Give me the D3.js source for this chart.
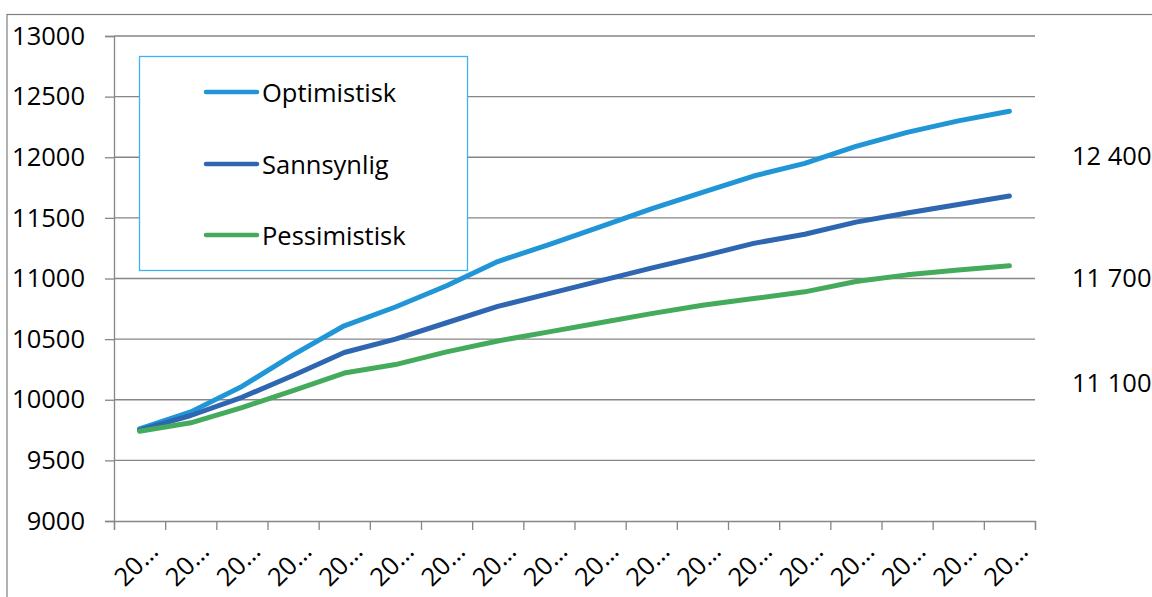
<!DOCTYPE html>
<html>
<head>
<meta charset="utf-8">
<script src="https://cdn.jsdelivr.net/npm/d3@7"></script>
<style>
  html, body { margin: 0; padding: 0; background: #fff; }
  svg { display: block; }
  text { font-family: "Open Sans", "Liberation Sans", sans-serif; fill: #000; }
</style>
</head>
<body>
<svg id="chart" width="1152" height="597"></svg>
<script>
// ---- data ----
const categories = ["20…","20…","20…","20…","20…","20…","20…","20…","20…","20…","20…","20…","20…","20…","20…","20…","20…","20…"];
const optimistisk = [9760, 9900, 10110, 10370, 10610, 10765, 10940, 11140, 11280, 11425, 11575, 11710, 11845, 11950, 12090, 12205, 12300, 12380];
const sannsynlig  = [9750, 9870, 10020, 10200, 10390, 10500, 10635, 10770, 10875, 10980, 11085, 11185, 11290, 11365, 11465, 11540, 11610, 11680];
const pessimistisk = [9740, 9810, 9935, 10075, 10220, 10290, 10395, 10485, 10560, 10635, 10710, 10780, 10835, 10890, 10975, 11030, 11070, 11105];
const seriesNames = ["Optimistisk", "Sannsynlig", "Pessimistisk"];
const seriesColors = ["#2196d6", "#2e66b1", "#45ab5c"];
const yTicks = [9000, 9500, 10000, 10500, 11000, 11500, 12000, 12500, 13000];
const sideLabels = ["12 400", "11 700", "11 100"];
const sideLabelValues = [12020, 11010, 10150];

const seriesData = [optimistisk, sannsynlig, pessimistisk];

const svg = d3.select("#chart");
const mLeft = 114, mRight = 1035, mTop = 36, mBottom = 521;

const x = d3.scaleBand().domain(d3.range(categories.length)).range([mLeft, mRight]);
const xEdge = d3.scaleLinear().domain([0, categories.length]).range([mLeft, mRight]);
const y = d3.scaleLinear().domain([9000, 13000]).range([mBottom, mTop]);

// outer border
svg.append("rect").attr("x", 7).attr("y", 14.5).attr("width", 1160).attr("height", 600)
  .attr("fill", "none").attr("stroke", "#7f7f7f").attr("stroke-width", 1.2);

// gridlines
svg.append("g").selectAll("line").data(yTicks.filter(d => d !== 9000)).join("line")
  .attr("x1", mLeft).attr("x2", mRight)
  .attr("y1", d => y(d)).attr("y2", d => y(d))
  .attr("stroke", "#868686").attr("stroke-width", 1.3);

// y axis
const yAxis = svg.append("g").attr("transform", `translate(${mLeft},0)`)
  .call(d3.axisLeft(y).tickValues(yTicks).tickSize(9).tickPadding(20).tickFormat(d => String(d)));
yAxis.select(".domain").attr("stroke", "#868686").attr("stroke-width", 1.3);
yAxis.selectAll(".tick line").attr("stroke", "#868686").attr("stroke-width", 1.3);
yAxis.selectAll(".tick text").attr("font-size", 25.5).attr("font-family", "Open Sans").attr("fill", "#000");

// x axis (ticks at category edges)
const xAxis = svg.append("g").attr("transform", `translate(0,${mBottom})`)
  .call(d3.axisBottom(xEdge).tickValues(d3.range(categories.length + 1)).tickSize(9).tickFormat(""));
xAxis.select(".domain").attr("stroke", "#868686").attr("stroke-width", 1.3);
xAxis.selectAll(".tick line").attr("stroke", "#868686").attr("stroke-width", 1.3);

// x labels
svg.append("g").selectAll("text").data(categories).join("text")
  .attr("transform", (d, i) => `translate(${x(i) + x.bandwidth() / 2 + 13},546) rotate(-45)`)
  .attr("text-anchor", "end").attr("dominant-baseline", "central")
  .attr("font-size", 25.5).text(d => d);

// lines
const line = d3.line().x((d, i) => x(i) + x.bandwidth() / 2).y(d => y(d));
svg.append("g").selectAll("path").data(seriesData).join("path")
  .attr("d", d => line(d))
  .attr("fill", "none")
  .attr("stroke", (d, i) => seriesColors[i])
  .attr("stroke-width", 5)
  .attr("stroke-linecap", "round").attr("stroke-linejoin", "round");

// legend
const lg = svg.append("g");
lg.append("rect").attr("x", 139.5).attr("y", 56.5).attr("width", 328).attr("height", 214)
  .attr("fill", "#fff").attr("stroke", "#3db3ef").attr("stroke-width", 1.3);
const legendY = [92, 164, 235];
seriesNames.forEach((n, i) => {
  lg.append("line").attr("x1", 206).attr("x2", 257).attr("y1", legendY[i]).attr("y2", legendY[i])
    .attr("stroke", seriesColors[i]).attr("stroke-width", 4.5).attr("stroke-linecap", "round");
  lg.append("text").attr("x", 262).attr("y", legendY[i]).attr("dominant-baseline", "central")
    .attr("font-size", 25.5).text(n);
});

// side labels
svg.append("g").selectAll("text").data(sideLabels).join("text")
  .attr("x", 1072).attr("y", (d, i) => y(sideLabelValues[i]))
  .attr("dominant-baseline", "central").attr("font-size", 25.5).text(d => d);
</script>
</body>
</html>
